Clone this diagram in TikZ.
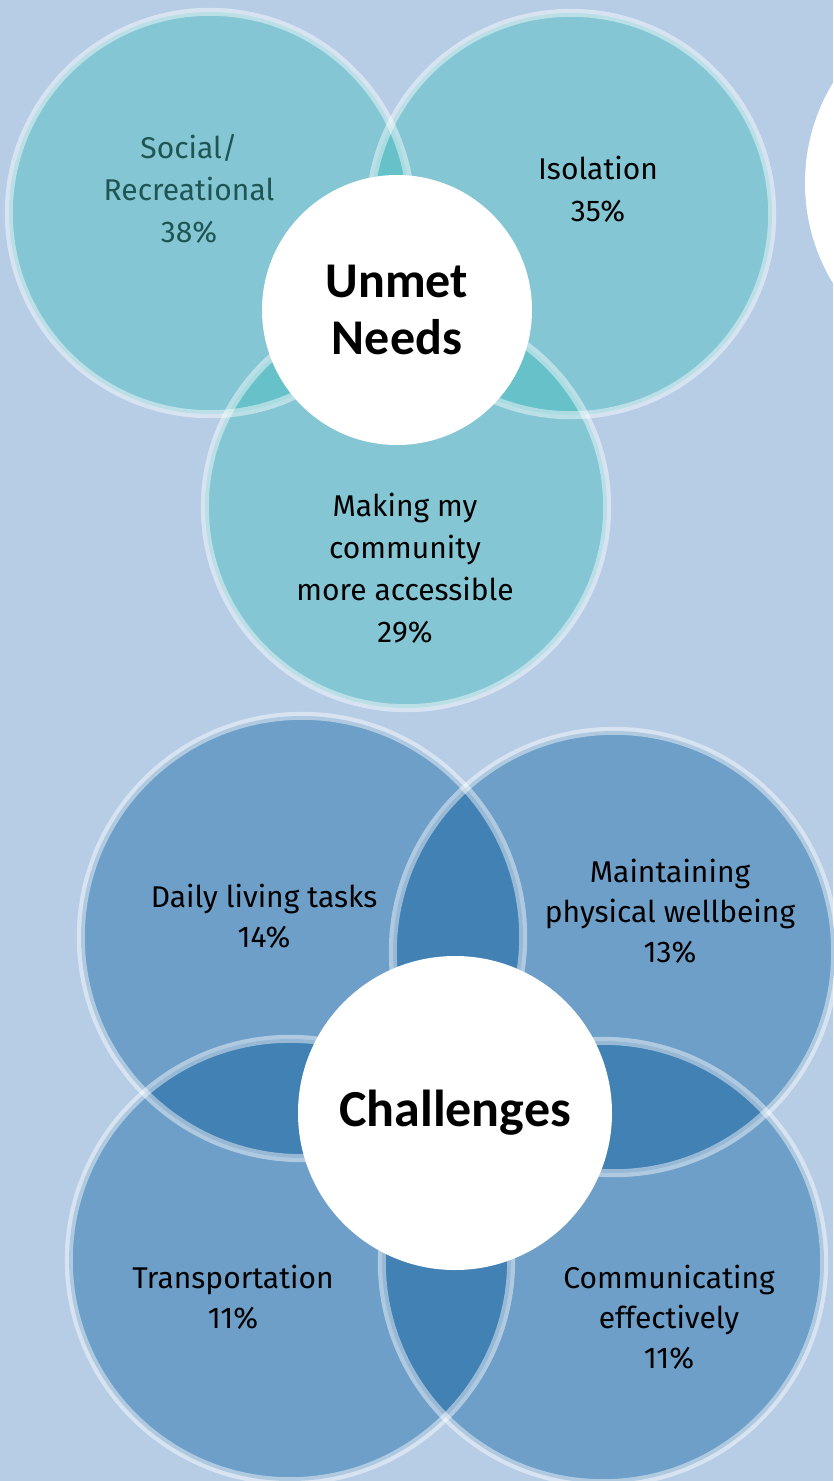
\documentclass[tikz,border=0pt]{standalone}
\usepackage{fontspec}
\setmainfont{Fira Sans}
\newfontfamily\hubfont{Carlito}
\usetikzlibrary{calc}
\pgfdeclarelayer{foreground}
\pgfdeclarelayer{top}
\pgfsetlayers{main,foreground,top}
\definecolor{pagebg}{HTML}{B7CDE6}
\definecolor{tealfill}{HTML}{84C6D3}
\definecolor{tealdeep}{HTML}{66C1C9}
\definecolor{bluefill}{HTML}{6E9FC8}
\definecolor{bluedeep}{HTML}{4281B4}
\definecolor{socialink}{HTML}{1F5553}
\newcommand{\TealSize}{402pt}
\newcommand{\BlueSize}{442pt}
\tikzset{Disc/.style={
    circle,
    inner sep=0pt,
    minimum size=\TealSize,
    fill=tealfill,
 append after command={% <= ring on top of the lenses
        \pgfextra{%
            \begin{pgfinterruptpath}\begin{pgfonlayer}{foreground}
            \draw[white, opacity=0.45, line width=8pt] let \p1=($(\tikzlastnode.east)-(\tikzlastnode.center)$) in
                (\tikzlastnode.center) circle[radius=\x1];
            \end{pgfonlayer}\end{pgfinterruptpath}
        }
    },
    }
}

\begin{document}
\begin{tikzpicture}[x=1pt, y=-1pt,
    hub/.style={circle, inner sep=0pt, fill=white, align=center,
        font=\hubfont\bfseries},
    txt/.style={align=center, font=\fontsize{30}{42}\selectfont},
    bigdisc/.style={Disc, minimum size=\BlueSize, fill=bluefill},
]
\useasboundingbox (0,0) rectangle (833,1481);
\fill[pagebg] (0,0) rectangle (833,1481);

% unmet needs
\node [Disc] (social) at (210,213) {};
\node [Disc] (iso) at (571,214) {};
\node [Disc] (access) at (406,507) {};
\begin{scope}
\clip (social.center) circle[radius=201pt];
\fill[tealdeep] (iso.center) circle[radius=201pt];
\fill[tealdeep] (access.center) circle[radius=201pt];
\end{scope}
\begin{scope}
\clip (iso.center) circle[radius=201pt];
\fill[tealdeep] (access.center) circle[radius=201pt];
\end{scope}
\node [txt, text=socialink] (socialtext) at (189,189) {Social/\\Recreational\\38\%};
\node [txt] (isotext) at (598,189) {Isolation\\35\%};
\node [txt] (accesstext) at (405,568) {Making my\\community\\more accessible\\29\%};

% challenges
\node [bigdisc] (daily) at (302,937) {};
\node [bigdisc] (phys) at (614,952) {};
\node [bigdisc] (transp) at (290,1260) {};
\node [bigdisc] (comm) at (603,1262) {};
\begin{scope}
\clip (daily.center) circle[radius=221pt];
\fill[bluedeep] (phys.center) circle[radius=221pt];
\fill[bluedeep] (transp.center) circle[radius=221pt];
\end{scope}
\begin{scope}
\clip (comm.center) circle[radius=221pt];
\fill[bluedeep] (phys.center) circle[radius=221pt];
\fill[bluedeep] (transp.center) circle[radius=221pt];
\end{scope}
\node [txt, font=\fontsize{30}{40}\selectfont] (dailytext) at (264,916) {Daily living tasks\\14\%};
\node [txt, font=\fontsize{30}{40}\selectfont] (phystext) at (670,911) {Maintaining\\physical wellbeing\\13\%};
\node [txt, font=\fontsize{30}{40}\selectfont] (transptext) at (233,1297) {Transportation\\11\%};
\node [txt, font=\fontsize{30}{40}\selectfont] (commtext) at (669,1317) {Communicating\\effectively\\11\%};

\begin{pgfonlayer}{top}
\node [hub, minimum size=270pt, font=\hubfont\bfseries\fontsize{50}{57}\selectfont] (unmet) at (397,310) {Unmet\\Needs};
\node [hub, minimum size=386pt] (edgehub) at (998,183) {};
\node [hub, minimum size=314pt, font=\hubfont\bfseries\fontsize{52}{56}\selectfont] (challenges) at (455,1113) {Challenges};
\end{pgfonlayer}
\end{tikzpicture}
\end{document}
